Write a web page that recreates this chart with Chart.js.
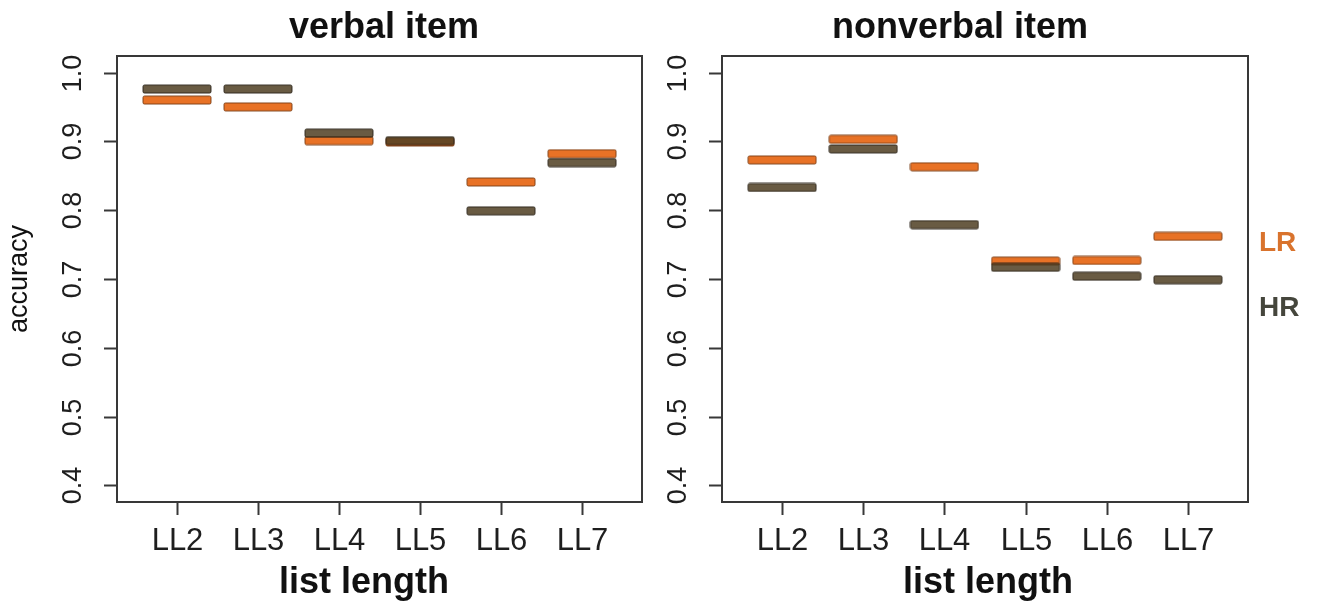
<!DOCTYPE html>
<html>
<head>
<meta charset="utf-8">
<script src="https://cdn.jsdelivr.net/npm/chart.js@4.4.1/dist/chart.umd.min.js"></script>
<style>
  html, body { margin: 0; padding: 0; background: #ffffff; }
  #wrap { position: relative; width: 1319px; height: 603px; overflow: hidden; }
  #wrap canvas { position: absolute; left: 0; top: 0; }
</style>
</head>
<body>
<div id="wrap">
  <canvas id="verbalChart" width="1319" height="603"></canvas>
  <canvas id="nonverbalChart" width="1319" height="603"></canvas>
</div>
<script>
// Categories and tick labels
const listLengths = ['LL2', 'LL3', 'LL4', 'LL5', 'LL6', 'LL7'];
const yTickValues = [0.4, 0.5, 0.6, 0.7, 0.8, 0.9, 1.0];

// Mean accuracy per list length (LR / HR)
const verbalLR    = [0.960, 0.950, 0.901, 0.899, 0.841, 0.882];
const verbalHR    = [0.976, 0.976, 0.912, 0.901, 0.799, 0.869];
const nonverbalLR = [0.873, 0.903, 0.863, 0.726, 0.727, 0.762];
const nonverbalHR = [0.833, 0.889, 0.779, 0.717, 0.704, 0.699];

const FONT = '"Liberation Sans", Arial, Helvetica, sans-serif';
const W = 1319, H = 603;

// Flat horizontal bar used as the point glyph
function barGlyph(fill, edge) {
  const c = document.createElement('canvas');
  c.width = 70; c.height = 10;
  const g = c.getContext('2d');
  const x = 1, y = 1, w = 68, h = 8, r = 1.5;
  g.beginPath();
  g.moveTo(x + r, y);
  g.lineTo(x + w - r, y); g.quadraticCurveTo(x + w, y, x + w, y + r);
  g.lineTo(x + w, y + h - r); g.quadraticCurveTo(x + w, y + h, x + w - r, y + h);
  g.lineTo(x + r, y + h); g.quadraticCurveTo(x, y + h, x, y + h - r);
  g.lineTo(x, y + r); g.quadraticCurveTo(x, y, x + r, y);
  g.closePath();
  g.fillStyle = fill; g.fill();
  g.strokeStyle = edge; g.lineWidth = 1; g.stroke();
  return c;
}
const lrGlyph = barGlyph('rgba(232,114,38,1)', 'rgba(120,60,20,0.9)');
const hrGlyph = barGlyph('rgba(80,64,36,0.86)', 'rgba(40,34,24,0.9)');

// Box, ticks, tick labels and panel texts
const panelFrame = {
  id: 'panelFrame',
  afterDraw(chart, args, o) {
    const { ctx, chartArea: a, scales: { x, y } } = chart;
    ctx.save();
    ctx.strokeStyle = '#383838';
    ctx.lineWidth = 2;
    ctx.strokeRect(a.left, a.top, a.right - a.left, a.bottom - a.top);

    ctx.fillStyle = '#1e1e1e';
    // y axis ticks + rotated labels
    ctx.font = '27px ' + FONT;
    ctx.textAlign = 'center';
    ctx.textBaseline = 'middle';
    yTickValues.forEach(v => {
      const py = Math.round(y.getPixelForValue(v)) + 0.5;
      ctx.beginPath(); ctx.moveTo(a.left - 13, py); ctx.lineTo(a.left, py); ctx.stroke();
      ctx.save();
      ctx.translate(a.left - 43, py);
      ctx.rotate(-Math.PI / 2);
      ctx.fillText(v.toFixed(1), 0, 0);
      ctx.restore();
    });
    // x axis ticks + labels
    ctx.font = '31px ' + FONT;
    ctx.textBaseline = 'alphabetic';
    listLengths.forEach((lab, i) => {
      const px = Math.round(x.getPixelForValue(i + 1)) + 0.5;
      ctx.beginPath(); ctx.moveTo(px, a.bottom); ctx.lineTo(px, a.bottom + 13); ctx.stroke();
      ctx.fillText(lab, px, 550);
    });
    // panel title and x axis title
    ctx.font = 'bold 36px ' + FONT;
    ctx.fillStyle = '#111111';
    ctx.fillText(o.title, o.titleX, 38);
    ctx.fillText('list length', o.xTitleX, 593);
    // y axis title
    if (o.yTitle) {
      ctx.font = '27px ' + FONT;
      ctx.save();
      ctx.translate(20, (a.top + a.bottom) / 2);
      ctx.rotate(-Math.PI / 2);
      ctx.textBaseline = 'middle';
      ctx.fillText(o.yTitle, 0, 0);
      ctx.restore();
    }
    // group labels in the right margin
    (o.keys || []).forEach(k => {
      ctx.font = 'bold 28px ' + FONT;
      ctx.fillStyle = k.color;
      ctx.textAlign = 'left';
      ctx.textBaseline = 'middle';
      ctx.fillText(k.text, a.right + 11, k.y);
    });
    ctx.restore();
  }
};

function makePanel(id, lr, hr, area, frameOpts) {
  return new Chart(document.getElementById(id), {
    type: 'scatter',
    data: {
      datasets: [
        { label: 'HR', data: hr.map((v, i) => ({ x: i + 1, y: v })), pointStyle: hrGlyph, pointRadius: 5 },
        { label: 'LR', data: lr.map((v, i) => ({ x: i + 1, y: v })), pointStyle: lrGlyph, pointRadius: 5 }
      ]
    },
    options: {
      responsive: false,
      animation: false,
      events: [],
      layout: { padding: { left: area.left, right: W - area.right, top: area.top, bottom: H - area.bottom } },
      scales: {
        x: { type: 'linear', min: 0.26, max: 6.74, display: false },
        y: { type: 'linear', min: 0.376, max: 1.024, display: false }
      },
      plugins: {
        legend: { display: false },
        tooltip: { enabled: false },
        panelFrame: frameOpts
      }
    },
    plugins: [panelFrame]
  });
}

makePanel('verbalChart', verbalLR, verbalHR,
  { left: 117, right: 642, top: 56, bottom: 502 },
  { title: 'verbal item', titleX: 384, xTitleX: 364, yTitle: 'accuracy' });

makePanel('nonverbalChart', nonverbalLR, nonverbalHR,
  { left: 722, right: 1248, top: 56, bottom: 502 },
  { title: 'nonverbal item', titleX: 960, xTitleX: 988,
    keys: [ { text: 'LR', y: 243, color: '#d9732d' }, { text: 'HR', y: 308, color: '#45463c' } ] });
</script>
</body>
</html>
